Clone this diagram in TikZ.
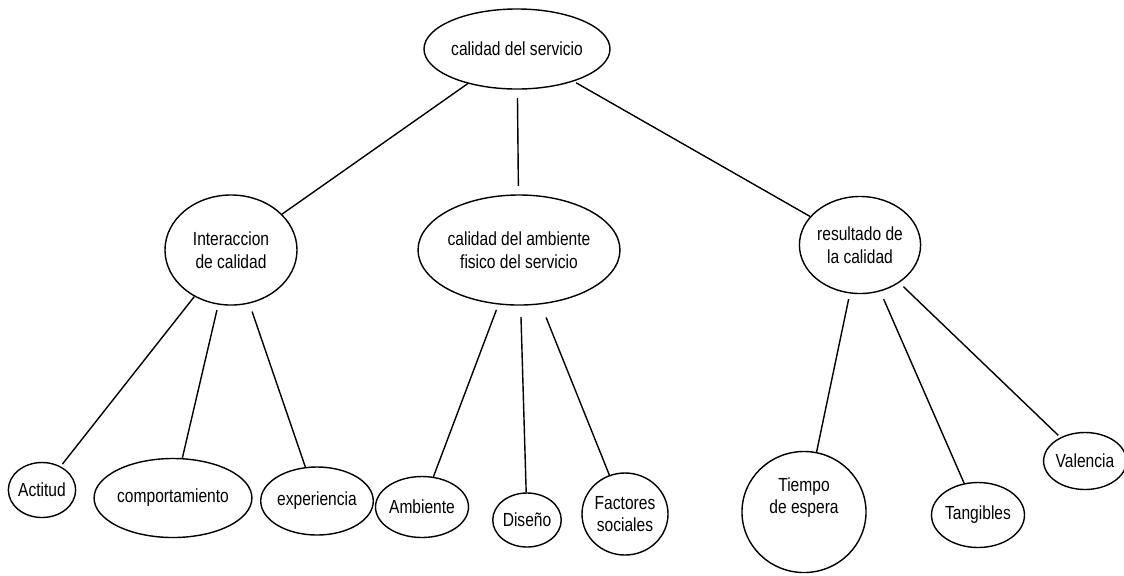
\documentclass[tikz,border=0pt]{standalone}
\usepackage{fontspec}
\setmainfont{Liberation Sans}[FakeStretch=0.82]
\usetikzlibrary{shapes}

\begin{document}
\begin{tikzpicture}[x=0.025cm,y=-0.025cm,line width=1pt,
                    every node/.style={ellipse,draw,inner sep=0pt,align=center,
                      font=\fontsize{13.5}{16}\selectfont},
                    gap/.style={shorten <=6pt,shorten >=6pt}]

  \useasboundingbox (0,0) rectangle (1124,575);

  \node[minimum width=3.8cm,minimum height=2cm]      (top)  at (517,49)  {calidad del servicio};

  \node[minimum width=3.3cm,minimum height=2.75cm]   (inter) at (231,250) {Interaccion\\de calidad};
  \node[minimum width=4.375cm,minimum height=2.75cm] (amb)   at (519,250) {calidad del ambiente\\fisico del servicio};
  \node[minimum width=2.85cm,minimum height=2.425cm] (res)   at (860,245) {resultado de\\la calidad};

  \node[minimum width=1.5cm,minimum height=1.375cm]  (act)   at (42,490)  {Actitud};
  \node[minimum width=3.3cm,minimum height=1.975cm]  (comp)  at (173,498) {comportamiento};
  \node[minimum width=2.475cm,minimum height=1.7cm]  (exp)   at (317,501) {experiencia};

  \node[minimum width=2.075cm,minimum height=1.525cm] (ambi) at (422,507) {Ambiente};
  \node[minimum width=1.65cm,minimum height=1.35cm]   (dis)  at (527,520) {Diseño};
  \node[minimum width=2.15cm,minimum height=2.05cm]   (fac)  at (625,514) {Factores\\sociales};

  \node[minimum width=3.1cm,minimum height=3.025cm]  (tiem)  at (804,512) {Tiempo\\de espera\\[0.25cm]};
  \node[minimum width=2.25cm,minimum height=1.625cm] (tang)  at (978,515) {Tangibles};
  \node[minimum width=1.85cm,minimum height=1.425cm] (val)   at (1085,461) {Valencia};

  \path (top) edge (inter)
  (top) edge[gap] (amb)
  (top) edge[shorten <=2pt] (res)
  (inter) edge[shorten >=2pt] (act)
  (inter) edge[shorten <=4pt] (comp)
  (inter) edge[shorten <=6pt] (exp)
  (amb) edge[shorten <=4pt] (ambi)
  (amb) edge[shorten <=8pt] (dis)
  (amb) edge[shorten <=10pt] (fac)
  (res) edge[shorten <=4pt] (tiem)
  (res) edge[shorten <=6pt] (tang)
  (res) edge[shorten <=4pt,shorten >=2pt] (val)
  ;

\end{tikzpicture}
\end{document}
